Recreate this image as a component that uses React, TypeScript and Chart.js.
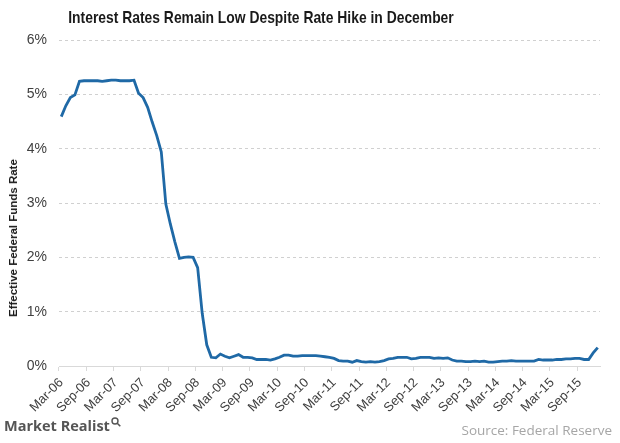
import React, { useEffect, useRef } from "react";
import { Chart, registerables } from "chart.js";

Chart.register(...registerables);

const MONTHS = ["Jan", "Feb", "Mar", "Apr", "May", "Jun", "Jul", "Aug", "Sep", "Oct", "Nov", "Dec"];

// Monthly categories Mar-06 .. Jan-16
const categories: string[] = [];
for (let y = 2006; y <= 2016; y++) {
  for (let m = 0; m < 12; m++) {
    if (y === 2006 && m < 2) continue;
    if (y === 2016 && m > 0) continue;
    categories.push(`${MONTHS[m]}-${String(y % 100).padStart(2, "0")}`);
  }
}

const rates2006 = [4.59, 4.79, 4.94, 4.99, 5.24, 5.25, 5.25, 5.25, 5.25, 5.24];
const rates2007 = [5.25, 5.26, 5.26, 5.25, 5.25, 5.25, 5.26, 5.02, 4.94, 4.76, 4.49, 4.24];
const rates2008 = [3.94, 2.98, 2.61, 2.28, 1.98, 2.0, 2.01, 2.0, 1.81, 0.97, 0.39, 0.16];
const rates2009 = [0.15, 0.22, 0.18, 0.15, 0.18, 0.21, 0.16, 0.16, 0.15, 0.12, 0.12, 0.12];
const rates2010 = [0.11, 0.13, 0.16, 0.2, 0.2, 0.18, 0.18, 0.19, 0.19, 0.19, 0.19, 0.18];
const rates2011 = [0.17, 0.16, 0.14, 0.1, 0.09, 0.09, 0.07, 0.1, 0.08, 0.07, 0.08, 0.07];
const rates2012 = [0.08, 0.1, 0.13, 0.14, 0.16, 0.16, 0.16, 0.13, 0.14, 0.16, 0.16, 0.16];
const rates2013 = [0.14, 0.15, 0.14, 0.15, 0.11, 0.09, 0.09, 0.08, 0.08, 0.09, 0.08, 0.09];
const rates2014 = [0.07, 0.07, 0.08, 0.09, 0.09, 0.1, 0.09, 0.09, 0.09, 0.09, 0.09, 0.12];
const rates2015 = [0.11, 0.11, 0.11, 0.12, 0.12, 0.13, 0.13, 0.14, 0.14, 0.12, 0.12, 0.24];
const rates2016 = [0.34];

const rates = [
  ...rates2006, ...rates2007, ...rates2008, ...rates2009, ...rates2010,
  ...rates2011, ...rates2012, ...rates2013, ...rates2014, ...rates2015, ...rates2016,
];

const yTicks = [0, 1, 2, 3, 4, 5, 6];
const LABEL_EVERY = 6;

const TITLE = "Interest Rates Remain Low Despite Rate Hike in December";
const Y_TITLE = "Effective Federal Funds Rate";
const SOURCE = "Source: Federal Reserve";
const BRAND = "Market Realist";

export default function App() {
  const ref = useRef<HTMLCanvasElement>(null);

  useEffect(() => {
    if (!ref.current) return;
    const chart = new Chart(ref.current, {
      type: "line",
      data: {
        labels: categories,
        datasets: [
          {
            data: rates,
            borderColor: "#1f69a6",
            borderWidth: 2.8,
            pointRadius: 0,
            tension: 0,
            fill: false,
          },
        ],
      },
      options: {
        animation: false,
        responsive: false,
        maintainAspectRatio: false,
        layout: { padding: { top: 40, right: 20, bottom: 27, left: 0 } },
        plugins: { legend: { display: false }, tooltip: { enabled: false }, title: { display: false } },
        scales: {
          x: {
            type: "category",
            offset: true,
            afterFit: (s: any) => {
              s.height = 50;
            },
            grid: {
              offset: true,
              drawOnChartArea: false,
              drawTicks: true,
              tickLength: 5,
              color: (ctx: any) => (ctx.index % LABEL_EVERY === 0 ? "#d9d9d9" : "rgba(0,0,0,0)"),
            },
            border: { display: true, color: "#d9d9d9", width: 1 },
            ticks: {
              autoSkip: false,
              minRotation: 45,
              maxRotation: 45,
              padding: 4,
              color: "#404040",
              font: { family: "'Liberation Sans', Arial, sans-serif", size: 13 },
              callback: (_v: any, i: number) => (i % LABEL_EVERY === 0 ? categories[i] : ""),
            },
          },
          y: {
            min: 0,
            max: 6,
            afterFit: (s: any) => {
              s.width = 59;
            },
            afterBuildTicks: (s: any) => {
              s.ticks = yTicks.map((v) => ({ value: v }));
            },
            grid: {
              drawTicks: false,
              color: (ctx: any) => (ctx.tick && ctx.tick.value === 0 ? "rgba(0,0,0,0)" : "#d0d0d0"),
              lineWidth: 1,
            },
            border: { display: false, dash: [3, 3] },
            ticks: {
              padding: 12,
              color: "#404040",
              font: { family: "'Liberation Sans', Arial, sans-serif", size: 14 },
              callback: (v: any) => `${v}%`,
            },
          },
        },
      },
    });
    return () => chart.destroy();
  }, []);

  return (
    <div style={{ position: "absolute", left: 0, top: 0, width: 620, height: 443, background: "#fff", overflow: "hidden" }}>
      <canvas ref={ref} width={620} height={443} style={{ position: "absolute", left: 0, top: 0 }} />
      <div
        style={{
          position: "absolute",
          left: 261,
          top: 8,
          transform: "translateX(-50%) scaleX(0.816)",
          whiteSpace: "nowrap",
          fontFamily: "'Liberation Sans Narrow', 'Arial Narrow', 'Liberation Sans', sans-serif",
          fontWeight: "bold",
          fontSize: 17,
          lineHeight: "20px",
          color: "#1a1a1a",
        }}
      >
        {TITLE}
      </div>
      <div
        style={{
          position: "absolute",
          left: 13,
          top: 238,
          transform: "translate(-50%, -50%) rotate(-90deg)",
          whiteSpace: "nowrap",
          fontFamily: "'Liberation Sans', Arial, sans-serif",
          fontWeight: "bold",
          fontSize: 11.5,
          color: "#1a1a1a",
        }}
      >
        {Y_TITLE}
      </div>
      <div
        style={{
          position: "absolute",
          left: 4,
          top: 417,
          display: "flex",
          alignItems: "flex-start",
          whiteSpace: "nowrap",
          fontFamily: "'Open Sans', sans-serif",
          fontWeight: 700,
          fontSize: 14.5,
          lineHeight: "18px",
          color: "#555555",
        }}
      >
        <span>{BRAND}</span>
        <svg width="10" height="10" viewBox="0 0 10 10" style={{ marginLeft: 1, marginTop: 0, flex: "none" }}>
          <circle cx="4" cy="4" r="3" fill="none" stroke="#555555" strokeWidth="1.4" />
          <line x1="6.2" y1="6.2" x2="9.3" y2="9.3" stroke="#555555" strokeWidth="1.6" />
        </svg>
      </div>
      <div
        style={{
          position: "absolute",
          right: 8,
          top: 421,
          whiteSpace: "nowrap",
          fontFamily: "'Open Sans', sans-serif",
          fontSize: 13.5,
          lineHeight: "18px",
          color: "#a6a6a6",
        }}
      >
        {SOURCE}
      </div>
    </div>
  );
}
